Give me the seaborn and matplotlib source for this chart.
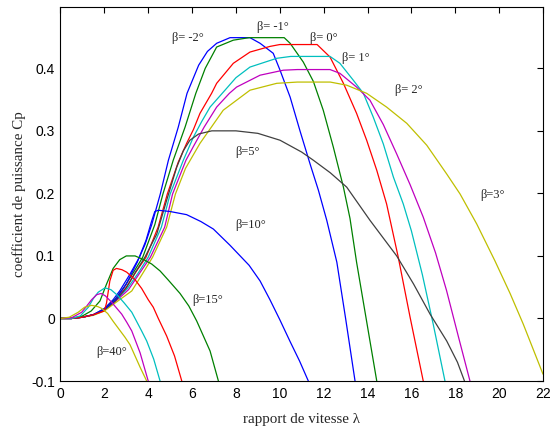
import matplotlib
matplotlib.use("Agg")
import matplotlib.pyplot as plt
import pandas as pd
import seaborn as sns

# Cp(lambda) curves, one pair of lists per pitch angle
LAM_M2 = [0, 0.5, 1.0, 1.5, 2.0, 2.4, 2.7, 3.17, 3.6, 3.85, 4.16, 4.55, 4.92, 5.37, 5.77, 6.3, 6.7,
          7.12, 7.73, 8.64, 9.1, 9.7, 10.01, 10.47, 10.92, 11.38, 11.76, 12.14, 12.6, 13.0, 13.43]
CP_M2 = [0, 0, 0.002, 0.006, 0.016, 0.03, 0.044, 0.071, 0.098, 0.118, 0.15, 0.199, 0.253, 0.306, 0.36,
         0.405, 0.427, 0.44, 0.449, 0.449, 0.44, 0.424, 0.397, 0.354, 0.30, 0.247, 0.205, 0.157, 0.09,
         0.0, -0.1]

LAM_M1 = [0, 0.5, 1.0, 1.5, 2.0, 2.5, 2.9, 3.35, 3.75, 4.3, 4.67, 5.14, 5.68, 6.17, 6.6, 7.12, 7.88,
          8.6, 10.2, 10.47, 11.07, 11.53, 11.98, 12.44, 12.9, 13.2, 13.5, 13.96, 14.42]
CP_M1 = [0, 0, 0.002, 0.006, 0.015, 0.031, 0.05, 0.075, 0.098, 0.15, 0.199, 0.253, 0.306, 0.36, 0.40,
         0.434, 0.445, 0.449, 0.449, 0.44, 0.41, 0.379, 0.333, 0.274, 0.21, 0.16, 0.09, -0.005, -0.1]

LAM_0 = [0, 0.5, 1.0, 1.5, 2.0, 2.5, 3.0, 3.45, 3.9, 4.45, 4.87, 5.37, 5.75, 6.06, 6.36, 6.89, 7.12,
         7.88, 8.64, 9.55, 10.0, 11.7, 12.29, 12.9, 13.5, 13.96, 14.42, 14.87, 15.4, 15.94, 16.54]
CP_0 = [0, 0, 0.002, 0.006, 0.014, 0.029, 0.05, 0.075, 0.098, 0.146, 0.199, 0.25, 0.28, 0.302, 0.328,
        0.36, 0.376, 0.408, 0.426, 0.435, 0.438, 0.438, 0.418, 0.376, 0.328, 0.285, 0.237, 0.183,
        0.098, 0.002, -0.1]

LAM_P1 = [0, 0.5, 1.0, 1.5, 2.0, 2.5, 3.05, 3.55, 4.0, 4.6, 5.0, 5.6, 6.06, 6.44, 6.82, 7.5, 8.0,
          8.64, 9.86, 10.5, 12.29, 12.74, 13.35, 13.81, 14.26, 14.72, 15.18, 15.63, 16.0, 16.5, 17.0,
          17.53]
CP_P1 = [0, 0, 0.002, 0.006, 0.014, 0.028, 0.048, 0.073, 0.098, 0.146, 0.199, 0.253, 0.29, 0.315,
         0.338, 0.365, 0.385, 0.402, 0.416, 0.419, 0.419, 0.408, 0.381, 0.36, 0.322, 0.279, 0.226,
         0.183, 0.14, 0.07, -0.01, -0.1]

LAM_P2 = [0, 0.5, 1.0, 1.5, 2.0, 2.5, 3.1, 3.6, 4.1, 4.75, 5.11, 5.72, 6.06, 6.55, 7.12, 7.7, 8.03,
          9.1, 10.16, 10.8, 12.29, 12.74, 13.5, 14.11, 14.72, 15.33, 15.94, 16.54, 17.1, 17.6, 18.15,
          18.67]
CP_P2 = [0, 0, 0.002, 0.006, 0.013, 0.027, 0.046, 0.072, 0.098, 0.146, 0.199, 0.253, 0.275, 0.306,
         0.338, 0.36, 0.37, 0.389, 0.397, 0.398, 0.398, 0.392, 0.37, 0.349, 0.31, 0.263, 0.214, 0.162,
         0.105, 0.045, -0.03, -0.1]

LAM_P3 = [0, 0.5, 1.0, 1.5, 2.0, 2.5, 3.25, 3.73, 4.2, 4.84, 5.24, 5.7, 6.36, 7.42, 8.64, 9.86, 10.8,
          12.3, 13.05, 13.96, 14.87, 15.79, 16.7, 17.61, 18.22, 18.98, 19.81, 20.5, 21.1, 22.0]
CP_P3 = [0, 0, 0.002, 0.005, 0.012, 0.025, 0.044, 0.071, 0.098, 0.146, 0.199, 0.24, 0.28, 0.333,
         0.365, 0.376, 0.378, 0.378, 0.373, 0.36, 0.338, 0.312, 0.277, 0.231, 0.199, 0.151, 0.092,
         0.04, -0.009, -0.089]

LAM_P5 = [0, 0.5, 1.0, 1.5, 2.0, 2.5, 3.0, 3.4, 3.85, 4.39, 4.84, 5.3, 5.6, 5.9, 6.3, 6.9, 8.0, 9.0,
          10.01, 11.0, 11.53, 12.3, 13.05, 14.11, 15.33, 16.1, 16.85, 17.61, 18.1, 18.42]
CP_P5 = [0, 0, 0.002, 0.006, 0.014, 0.028, 0.049, 0.073, 0.098, 0.135, 0.189, 0.242, 0.268, 0.285,
         0.295, 0.30, 0.30, 0.296, 0.285, 0.266, 0.253, 0.233, 0.21, 0.157, 0.10, 0.055, 0.007, -0.036,
         -0.07, -0.1]

LAM_P10 = [0, 0.5, 1.0, 1.5, 2.0, 2.5, 3.0, 3.5, 3.9, 4.15, 4.3, 4.46, 5.0, 5.75, 6.4, 6.97, 7.73,
           8.6, 9.1, 9.55, 10.0, 10.47, 10.9, 11.3]
CP_P10 = [0, 0, 0.002, 0.006, 0.015, 0.03, 0.055, 0.09, 0.125, 0.155, 0.171, 0.173, 0.171, 0.166,
          0.155, 0.143, 0.117, 0.085, 0.06, 0.03, -0.002, -0.037, -0.068, -0.1]

LAM_P15 = [0, 0.5, 1.0, 1.4, 1.8, 2.1, 2.4, 2.7, 3.0, 3.4, 3.8, 4.16, 4.54, 4.9, 5.45, 5.85, 6.21,
           6.82, 7.2]
CP_P15 = [0, 0, 0.004, 0.012, 0.028, 0.055, 0.08, 0.094, 0.1, 0.1, 0.094, 0.087, 0.076, 0.062, 0.04,
          0.02, -0.004, -0.052, -0.1]

LAM_P20 = [0, 0.5, 1.0, 1.5, 2.0, 2.1, 2.25, 2.4, 2.55, 2.8, 3.02, 3.4, 3.7, 4.0, 4.23, 4.46, 4.84,
           5.2, 5.53]
CP_P20 = [0, 0, 0.002, 0.006, 0.012, 0.025, 0.06, 0.077, 0.08, 0.078, 0.074, 0.062, 0.048, 0.03,
          0.018, 0.0, -0.028, -0.06, -0.1]

LAM_P25 = [0, 0.5, 0.9, 1.27, 1.5, 1.72, 2.03, 2.3, 2.6, 2.9, 3.25, 3.7, 3.93, 4.25, 4.54]
CP_P25 = [0, 0, 0.004, 0.018, 0.032, 0.042, 0.049, 0.046, 0.037, 0.025, 0.01, -0.02, -0.036, -0.065,
          -0.1]

LAM_P30 = [0, 0.5, 0.97, 1.2, 1.42, 1.65, 1.85, 2.05, 2.33, 2.79, 3.02, 3.25, 3.63, 4.0]
CP_P30 = [0, 0.001, 0.01, 0.02, 0.03, 0.038, 0.04, 0.036, 0.026, 0.007, -0.006, -0.02, -0.055, -0.1]

LAM_P40 = [0, 0.4, 0.81, 1.1, 1.42, 1.7, 1.88, 2.15, 2.41, 2.94, 3.17, 3.63, 3.93]
CP_P40 = [0, 0.002, 0.01, 0.018, 0.021, 0.019, 0.016, 0.008, -0.005, -0.03, -0.042, -0.078, -0.1]

BETAS = ["-2", "-1", "0", "1", "2", "3", "5", "10", "15", "20", "25", "30", "40"]
CURVES = [
    (LAM_M2, CP_M2), (LAM_M1, CP_M1), (LAM_0, CP_0), (LAM_P1, CP_P1), (LAM_P2, CP_P2),
    (LAM_P3, CP_P3), (LAM_P5, CP_P5), (LAM_P10, CP_P10), (LAM_P15, CP_P15), (LAM_P20, CP_P20),
    (LAM_P25, CP_P25), (LAM_P30, CP_P30), (LAM_P40, CP_P40),
]

# matlab default color order, cycled
MATLAB = ["#0000ff", "#008000", "#ff0000", "#00bfbf", "#bf00bf", "#bfbf00", "#404040"]
COLORS = {b: MATLAB[i % len(MATLAB)] for i, b in enumerate(BETAS)}

LABELS = ["β= -2°", "β= -1°", "β= 0°", "β= 1°", "β= 2°", "β=3°", "β=5°", "β=10°", "β=15°", "β=40°"]
LABEL_POS = [(5.08, 0.448), (8.95, 0.466), (11.38, 0.449), (12.82, 0.416), (15.25, 0.365),
             (19.13, 0.197), (7.96, 0.266), (7.96, 0.149), (6.03, 0.030), (1.65, -0.054)]

sns.set_style("white")
plt.rcParams["font.family"] = ["Liberation Sans", "DejaVu Sans"]

df = pd.concat(
    [pd.DataFrame({"lam": lam, "cp": cp, "beta": b}) for b, (lam, cp) in zip(BETAS, CURVES)],
    ignore_index=True,
)

fig = plt.figure(figsize=(5.53, 4.28), dpi=100)
ax = fig.add_axes([0.1094, 0.1098, 0.8725, 0.8738])
sns.lineplot(data=df, x="lam", y="cp", hue="beta", hue_order=BETAS, palette=COLORS,
             sort=False, estimator=None, legend=False, linewidth=0.9, ax=ax)

for txt, (x, y) in zip(LABELS, LABEL_POS):
    ax.text(x, y, txt, ha="left", va="center", fontsize=9, family="Liberation Serif")

ax.set_xlim(0, 22)
ax.set_ylim(-0.1, 0.498)
ax.set_xticks(range(0, 23, 2))
ax.set_yticks([-0.1, 0, 0.1, 0.2, 0.3, 0.4])
ax.set_yticklabels(["-0.1", "0", "0.1", "0.2", "0.3", "0.4"])
ax.tick_params(direction="in", length=4, width=0.8, top=True, right=True,
               labelsize=10, pad=4, colors="black")
for sp in ax.spines.values():
    sp.set_visible(True)
    sp.set_color("black")
    sp.set_linewidth(0.8)

ax.set_xlabel("rapport de vitesse λ", family="Liberation Serif", fontsize=10.8, labelpad=9)
ax.set_ylabel("coefficient de puissance Cp", family="Liberation Serif", fontsize=10.8, labelpad=4)

fig.savefig("out.png", dpi=100)
